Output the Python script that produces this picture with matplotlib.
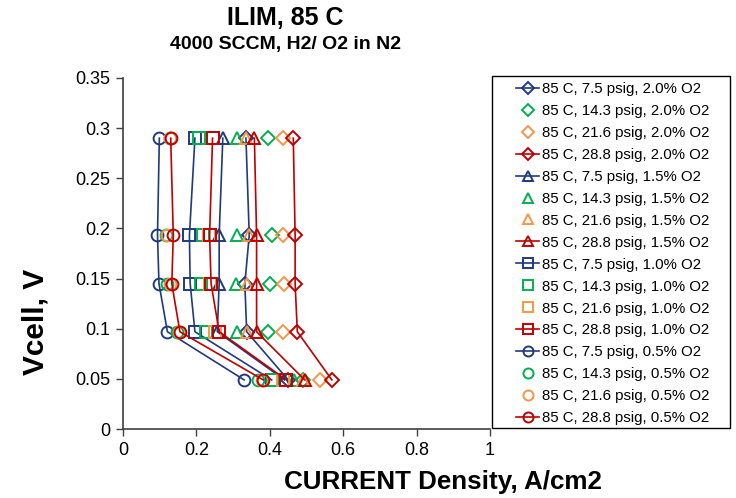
import matplotlib
matplotlib.use("Agg")
import matplotlib.pyplot as plt
from matplotlib.patches import Rectangle
from matplotlib.ticker import FuncFormatter, MultipleLocator

plt.rcParams['font.family'] = ['Liberation Sans', 'DejaVu Sans']

# Cell voltage set points (V)
vcell = [0.29, 0.193, 0.145, 0.097, 0.049]

# Limiting current density (A/cm2) per O2 fraction and back-pressure
o2_20 = {
    "7.5": [0.335, 0.344, 0.332, 0.337, 0.450],
    "14.3": [0.394, 0.405, 0.400, 0.396, 0.490],
    "21.6": [0.435, 0.435, 0.439, 0.437, 0.537],
    "28.8": [0.464, 0.469, 0.469, 0.475, 0.569],
}
o2_15 = {
    "7.5": [0.272, 0.262, 0.262, 0.257, 0.440],
    "14.3": [0.310, 0.311, 0.307, 0.310, 0.465],
    "21.6": [0.335, 0.342, 0.337, 0.339, 0.490],
    "28.8": [0.358, 0.364, 0.364, 0.364, 0.495],
}
o2_10 = {
    "7.5": [0.196, 0.181, 0.183, 0.196, 0.405],
    "14.3": [0.208, 0.219, 0.212, 0.225, 0.410],
    "21.6": [0.244, 0.234, 0.237, 0.251, 0.437],
    "28.8": [0.244, 0.236, 0.240, 0.262, 0.445],
}
o2_05 = {
    "7.5": [0.099, 0.094, 0.098, 0.121, 0.330],
    "14.3": [0.127, 0.117, 0.119, 0.148, 0.369],
    "21.6": [0.128, 0.119, 0.128, 0.153, 0.380],
    "28.8": [0.130, 0.137, 0.133, 0.155, 0.382],
}

o2_groups = [("2.0%", "D", o2_20), ("1.5%", "^", o2_15),
             ("1.0%", "s", o2_10), ("0.5%", "o", o2_05)]
pressures = ["7.5", "14.3", "21.6", "28.8"]
colors = {"7.5": "#1F3A7D", "14.3": "#00B050", "21.6": "#F79646", "28.8": "#C00000"}
with_line = {"7.5": True, "14.3": False, "21.6": False, "28.8": True}
msize = {"D": 7.0, "^": 8.5, "s": 8.0, "o": 8.5}

fig = plt.figure(figsize=(7.36, 4.98), dpi=100)
ax = fig.add_axes([123 / 736, 1 - 429 / 498, (490 - 123) / 736, (429 - 78) / 498])

handles = []
for pct, marker, group in o2_groups:
    for p in pressures:
        h, = ax.plot(group[p], vcell,
                     linestyle='-' if with_line[p] else 'none',
                     color=colors[p], lw=1.2,
                     marker=marker, markersize=msize[marker],
                     markerfacecolor='none', markeredgecolor=colors[p],
                     markeredgewidth=1.4,
                     label=f"85 C, {p} psig, {pct} O2")
        handles.append(h)

ax.set_xlim(0, 1)
ax.set_ylim(0, 0.35)
ax.xaxis.set_major_locator(MultipleLocator(0.2))
ax.yaxis.set_major_locator(MultipleLocator(0.05))
fmt = FuncFormatter(lambda v, _: f"{round(v, 2):g}")
ax.xaxis.set_major_formatter(fmt)
ax.yaxis.set_major_formatter(fmt)
ax.tick_params(axis='both', direction='out', length=5, width=1,
               color='#404040', labelsize=13, labelcolor='black', pad=4)

for side in ('top', 'right'):
    ax.spines[side].set_visible(False)
for side in ('left', 'bottom'):
    ax.spines[side].set_color('#404040')
    ax.spines[side].set_linewidth(1.2)

# Titles and axis titles
fig.text(285 / 736, 1 - 18 / 498, "ILIM, 85 C", ha='center', va='center',
         fontsize=18, fontweight='bold')
fig.text(285 / 736, 1 - 44 / 498, "4000 SCCM, H2/ O2 in N2", ha='center',
         va='center', fontsize=14, fontweight='bold')
fig.text(443 / 736, 1 - 482 / 498, "CURRENT Density, A/cm2", ha='center',
         va='center', fontsize=18.7, fontweight='bold')
fig.text(36 / 736, 1 - 322 / 498, "Vcell, V", ha='center', va='center',
         rotation=90, fontsize=21.5, fontweight='bold')

# Legend with its own frame
leg = fig.legend(handles=handles, loc='upper left',
                 bbox_to_anchor=(516 / 736, 1 - 82 / 498),
                 bbox_transform=fig.transFigure, frameon=False,
                 fontsize=10.8, handlelength=1.55, handletextpad=0.15,
                 labelspacing=0.53, borderpad=0, borderaxespad=0,
                 markerscale=0.85)
fig.patches.append(Rectangle((492 / 736, 1 - 428 / 498), (730 - 492) / 736,
                             (428 - 76) / 498, transform=fig.transFigure,
                             fill=False, edgecolor='black', lw=1.0))

fig.savefig("out.png", dpi=100)
